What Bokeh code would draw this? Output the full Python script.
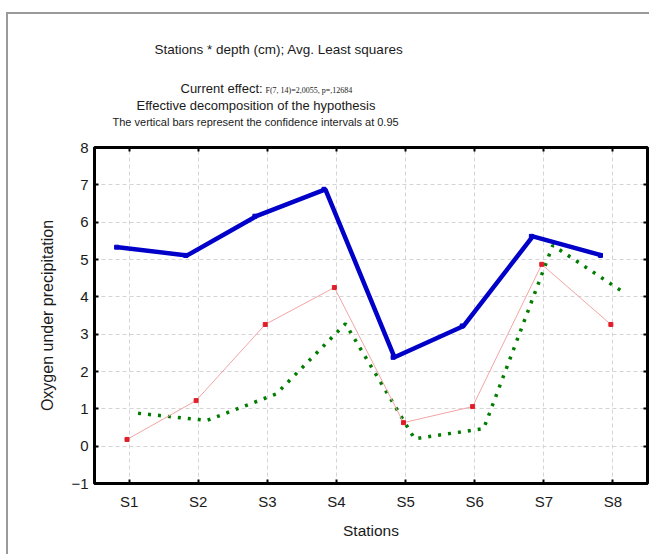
from bokeh.plotting import figure
from bokeh.models import (FactorRange, Range1d, Title, FixedTicker, InlineStyleSheet,
                          LinearAxis, CategoricalAxis, ColumnDataSource, CustomJSTickFormatter)
from bokeh.transform import dodge
from bokeh.embed import file_html
from bokeh.resources import INLINE

# ---- data ----
stations = ["S1", "S2", "S3", "S4", "S5", "S6", "S7", "S8"]
series_blue = [5.33, 5.11, 6.16, 6.88, 2.38, 3.22, 5.62, 5.11]
series_pink = [0.18, 1.22, 3.26, 4.25, 0.63, 1.06, 4.87, 3.26]
series_green = [0.88, 0.69, 1.40, 3.28, 0.20, 0.47, 5.38, 4.15]
y_ticks = [-1, 0, 1, 2, 3, 4, 5, 6, 7, 8]

title_1 = "Stations * depth (cm); Avg. Least squares"
title_2a = "Current effect:"
title_2b = "F(7, 14)=2,0055, p=,12684"
title_3 = "Effective decomposition of the hypothesis"
title_4 = "The vertical bars represent the confidence intervals at 0.95"
x_label = "Stations"
y_label = "Oxygen under precipitation"

SANS = "Liberation Sans"
SERIF = "Liberation Serif"

W, H = 649, 554
FL, FR, FT, FB = 94, 647, 147, 483

src = ColumnDataSource(dict(st=stations, blue=series_blue, pink=series_pink, green=series_green))

p = figure(width=W, height=H,
           x_range=FactorRange(*stations, range_padding=0),
           y_range=Range1d(-1, 8),
           output_backend="svg", toolbar_location=None,
           min_border_left=FL, min_border_right=W - FR,
           min_border_top=FT, min_border_bottom=H - FB)

p.background_fill_color = "white"
p.border_fill_color = "white"
p.outline_line_color = "black"
p.outline_line_width = 3
# grey frame of the graph window (left and top edges), drawn over the canvas
p.stylesheets = [InlineStyleSheet(
    css=":host::after { content: ''; position: absolute; left: 6px; top: 12px; "
        "right: 0px; bottom: 0px; border-left: 2px solid #9a9a9a; "
        "border-top: 2px solid #9a9a9a; pointer-events: none; z-index: 10; }")]

# grid
p.xgrid.grid_line_color = "#d4d4d4"
p.ygrid.grid_line_color = "#d4d4d4"
p.xgrid.grid_line_dash = "4 3"
p.ygrid.grid_line_dash = "4 3"
p.ygrid.ticker = FixedTicker(ticks=y_ticks)

# axes
p.yaxis.ticker = FixedTicker(ticks=y_ticks)
for ax in (p.xaxis[0], p.yaxis[0]):
    ax.axis_line_color = "black"
    ax.axis_line_width = 3
    ax.major_tick_in = 4
    ax.major_tick_out = 0
    ax.major_tick_line_color = "black"
    ax.major_tick_line_width = 2
    ax.minor_tick_line_color = None
    ax.major_label_text_font = SANS
    ax.major_label_text_font_size = "15px"
    ax.major_label_text_color = "#1a1a1a"
    ax.axis_label_text_font = SANS
    ax.axis_label_text_font_style = "normal"
    ax.axis_label_text_color = "#1a1a1a"

p.xaxis.axis_label = x_label
p.xaxis.axis_label_text_font_size = "15.5px"
p.xaxis.major_label_standoff = 9
p.xaxis.axis_label_standoff = 9

p.yaxis.axis_label = y_label
p.yaxis.axis_label_text_font_size = "16px"
p.yaxis.major_label_standoff = 6
p.yaxis.axis_label_standoff = 12

# inward ticks on the top and right sides (no labels)
ax_r = LinearAxis(ticker=FixedTicker(ticks=y_ticks), formatter=CustomJSTickFormatter(code="return ''"),
                  major_tick_in=4, major_tick_out=0, major_tick_line_width=2,
                  axis_line_color=None, major_label_standoff=0, minor_tick_line_color=None)
p.add_layout(ax_r, "right")
ax_t = CategoricalAxis(formatter=CustomJSTickFormatter(code="return ''"),
                       major_tick_in=4, major_tick_out=0,
                       major_tick_line_width=2, axis_line_color=None, major_label_standoff=0)
p.add_layout(ax_t, "above")

# series
p.line(x=dodge("st", 0.13, range=p.x_range), y="green", source=src,
       line_color="#007d00", line_width=3.5, line_dash="3 7")
p.line(x=dodge("st", -0.03, range=p.x_range), y="pink", source=src,
       line_color="#f2a4a4", line_width=1)
p.scatter(x=dodge("st", -0.03, range=p.x_range), y="pink", source=src, marker="square",
          size=4, fill_color="#e01f2b", line_color="#e01f2b")
p.scatter(x=dodge("st", -0.18, range=p.x_range), y="blue", source=src, marker="square",
          size=4, fill_color="#0000c8", line_color="#0000c8")
p.line(x=dodge("st", -0.16, range=p.x_range), y="blue", source=src,
       line_color="#0000c8", line_width=4.5)


# titles, stacked upwards from the plot
def add_title(text, left_px, size, standoff, font=SANS):
    p.add_layout(Title(text=text, align="left", offset=left_px - FL, standoff=standoff,
                       text_font=font, text_font_size=size, text_font_style="normal",
                       text_color="#1a1a1a"), "above")


add_title(title_4, 112, "11px", 40)
add_title(title_3, 136, "13px", -38)
add_title(title_2a, 180, "13px", -5)
add_title(title_2b, 265, "8px", -26, font=SERIF)
add_title(title_1, 154, "13.5px", 50)

open("out.html", "w").write(file_html(p, INLINE))
